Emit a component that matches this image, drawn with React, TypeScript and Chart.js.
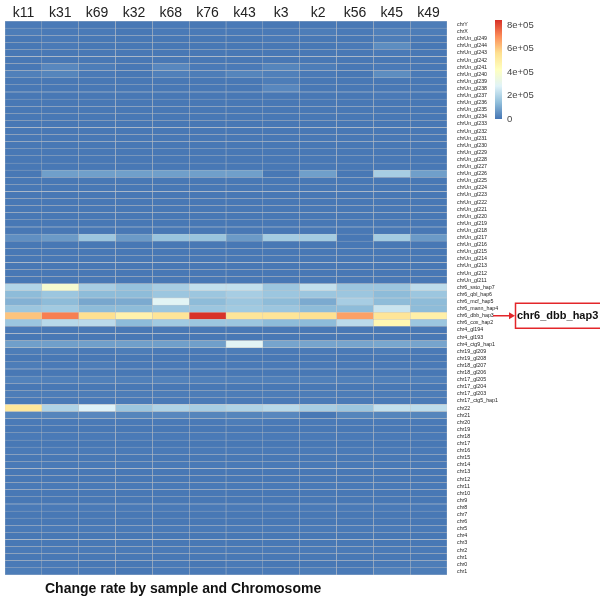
import React, { useEffect, useRef } from "react";
import { Chart, registerables } from "chart.js";
Chart.register(...registerables);

const samples = ["k11", "k31", "k69", "k32", "k68", "k76", "k43", "k3", "k2", "k56", "k45", "k49"];

const chromosomes = [
  "chrY", "chrX", "chrUn_gl249", "chrUn_gl244", "chrUn_gl243", "chrUn_gl242", "chrUn_gl241", "chrUn_gl240",
  "chrUn_gl239", "chrUn_gl238", "chrUn_gl237", "chrUn_gl236", "chrUn_gl235", "chrUn_gl234", "chrUn_gl233",
  "chrUn_gl232", "chrUn_gl231", "chrUn_gl230", "chrUn_gl229", "chrUn_gl228", "chrUn_gl227", "chrUn_gl226",
  "chrUn_gl225", "chrUn_gl224", "chrUn_gl223", "chrUn_gl222", "chrUn_gl221", "chrUn_gl220", "chrUn_gl219",
  "chrUn_gl218", "chrUn_gl217", "chrUn_gl216", "chrUn_gl215", "chrUn_gl214", "chrUn_gl213", "chrUn_gl212",
  "chrUn_gl211", "chr6_ssto_hap7", "chr6_qbl_hap6", "chr6_mcf_hap5", "chr6_mann_hap4", "chr6_dbb_hap3",
  "chr6_cox_hap2", "chr4_gl194", "chr4_gl193", "chr4_ctg9_hap1", "chr19_gl209", "chr19_gl208", "chr18_gl207",
  "chr18_gl206", "chr17_gl205", "chr17_gl204", "chr17_gl203", "chr17_ctg5_hap1", "chr22", "chr21", "chr20",
  "chr19", "chr18", "chr17", "chr16", "chr15", "chr14", "chr13", "chr12", "chr11", "chr10", "chr9", "chr8",
  "chr7", "chr6", "chr5", "chr4", "chr3", "chr2", "chr1", "chr0", "chr1",
];

// change rate per chromosome (row) and sample (column), in units of 1e5
const changeRate: number[][] = [
  [0.1, 0.1, 0.05, 0.05, 0.1, 0.05, 0.1, 0.05, 0.05, 0.05, 0.1, 0.15],
  [0.15, 0.1, 0.1, 0.05, 0.1, 0.1, 0.1, 0.1, 0.15, 0.1, 0.2, 0.15],
  [0.05, 0.1, 0.05, 0.05, 0.05, 0.05, 0.05, 0.1, 0.05, 0.05, 0.15, 0.05],
  [0.05, 0.1, 0.05, 0.05, 0.05, 0.05, 0.05, 0.05, 0.05, 0.1, 0.45, 0.05],
  [0.05, 0.05, 0.05, 0.05, 0.05, 0.05, 0.05, 0.05, 0.05, 0.05, 0.1, 0.05],
  [0.05, 0.05, 0.05, 0.05, 0.05, 0.05, 0.05, 0.05, 0.05, 0.05, 0.05, 0.05],
  [0.05, 0.35, 0.15, 0.05, 0.35, 0.1, 0.1, 0.3, 0.15, 0.05, 0.1, 0.05],
  [0.2, 0.3, 0.1, 0.05, 0.2, 0.15, 0.3, 0.2, 0.1, 0.05, 0.45, 0.1],
  [0.05, 0.05, 0.05, 0.05, 0.05, 0.05, 0.05, 0.15, 0.05, 0.05, 0.05, 0.05],
  [0.05, 0.05, 0.05, 0.05, 0.05, 0.05, 0.05, 0.35, 0.05, 0.05, 0.05, 0.05],
  [0.05, 0.05, 0.05, 0.05, 0.05, 0.05, 0.05, 0.05, 0.05, 0.05, 0.1, 0.05],
  [0.05, 0.05, 0.05, 0.05, 0.05, 0.05, 0.05, 0.05, 0.05, 0.05, 0.05, 0.05],
  [0.05, 0.05, 0.05, 0.05, 0.05, 0.05, 0.05, 0.05, 0.05, 0.05, 0.05, 0.05],
  [0.05, 0.05, 0.05, 0.05, 0.05, 0.05, 0.05, 0.05, 0.05, 0.05, 0.05, 0.05],
  [0.05, 0.05, 0.05, 0.05, 0.05, 0.05, 0.05, 0.05, 0.05, 0.05, 0.05, 0.05],
  [0.05, 0.05, 0.05, 0.05, 0.05, 0.05, 0.05, 0.05, 0.05, 0.05, 0.05, 0.05],
  [0.05, 0.05, 0.05, 0.05, 0.05, 0.05, 0.05, 0.05, 0.05, 0.05, 0.05, 0.05],
  [0.05, 0.05, 0.05, 0.05, 0.05, 0.05, 0.05, 0.05, 0.05, 0.05, 0.05, 0.05],
  [0.05, 0.05, 0.05, 0.05, 0.05, 0.05, 0.05, 0.05, 0.05, 0.05, 0.05, 0.05],
  [0.05, 0.05, 0.05, 0.05, 0.05, 0.05, 0.05, 0.05, 0.05, 0.05, 0.05, 0.05],
  [0.05, 0.05, 0.05, 0.05, 0.05, 0.05, 0.05, 0.05, 0.05, 0.05, 0.05, 0.05],
  [0.05, 0.8, 0.8, 0.8, 0.8, 0.8, 0.8, 0.05, 0.8, 0.05, 1.8, 0.8],
  [0.05, 0.05, 0.05, 0.05, 0.05, 0.05, 0.05, 0.05, 0.05, 0.05, 0.05, 0.05],
  [0.05, 0.05, 0.05, 0.05, 0.05, 0.05, 0.05, 0.05, 0.05, 0.05, 0.05, 0.05],
  [0.05, 0.05, 0.05, 0.05, 0.05, 0.05, 0.05, 0.05, 0.05, 0.05, 0.05, 0.05],
  [0.05, 0.05, 0.05, 0.05, 0.05, 0.05, 0.05, 0.05, 0.05, 0.05, 0.05, 0.05],
  [0.05, 0.05, 0.05, 0.05, 0.05, 0.05, 0.05, 0.05, 0.05, 0.05, 0.05, 0.05],
  [0.05, 0.05, 0.05, 0.05, 0.05, 0.05, 0.05, 0.05, 0.05, 0.05, 0.05, 0.05],
  [0.05, 0.05, 0.05, 0.05, 0.05, 0.05, 0.05, 0.05, 0.05, 0.05, 0.05, 0.05],
  [0.05, 0.05, 0.05, 0.05, 0.05, 0.05, 0.05, 0.05, 0.05, 0.05, 0.05, 0.05],
  [0.5, 0.7, 1.6, 0.7, 1.55, 1.55, 0.7, 1.75, 1.75, 0.05, 1.75, 0.7],
  [0.05, 0.05, 0.05, 0.05, 0.05, 0.05, 0.05, 0.05, 0.05, 0.05, 0.05, 0.05],
  [0.05, 0.05, 0.05, 0.05, 0.05, 0.05, 0.05, 0.05, 0.05, 0.05, 0.05, 0.05],
  [0.05, 0.05, 0.05, 0.05, 0.05, 0.05, 0.05, 0.05, 0.05, 0.05, 0.05, 0.05],
  [0.05, 0.05, 0.05, 0.05, 0.05, 0.05, 0.05, 0.05, 0.05, 0.05, 0.05, 0.05],
  [0.05, 0.05, 0.05, 0.05, 0.05, 0.05, 0.05, 0.05, 0.05, 0.05, 0.05, 0.05],
  [0.05, 0.05, 0.05, 0.05, 0.05, 0.05, 0.05, 0.05, 0.05, 0.05, 0.05, 0.05],
  [2.0, 3.8, 1.8, 1.5, 1.8, 2.3, 2.3, 1.6, 2.3, 1.6, 1.6, 2.2],
  [1.35, 1.6, 1.35, 1.35, 1.6, 1.6, 1.8, 1.6, 1.6, 1.6, 1.35, 1.6],
  [1.15, 1.35, 0.95, 1.0, 2.9, 1.35, 1.6, 1.35, 1.0, 1.8, 1.35, 1.35],
  [1.6, 1.7, 1.35, 1.35, 1.6, 1.6, 1.7, 1.6, 1.35, 1.35, 2.4, 1.35],
  [6.1, 7.25, 5.6, 4.8, 5.4, 8.4, 5.4, 5.4, 5.6, 6.7, 5.4, 4.9],
  [1.6, 2.1, 2.15, 1.35, 1.7, 1.6, 1.6, 1.35, 1.35, 2.15, 4.6, 1.6],
  [0.1, 0.05, 0.05, 0.05, 0.05, 0.05, 0.05, 0.05, 0.05, 0.05, 0.05, 0.05],
  [0.05, 0.05, 0.05, 0.05, 0.05, 0.05, 0.05, 0.05, 0.05, 0.05, 0.05, 0.05],
  [0.8, 0.8, 0.8, 0.8, 0.8, 0.8, 2.9, 0.9, 0.9, 0.9, 0.95, 0.9],
  [0.15, 0.15, 0.1, 0.15, 0.1, 0.1, 0.15, 0.1, 0.1, 0.1, 0.15, 0.1],
  [0.05, 0.05, 0.05, 0.05, 0.05, 0.05, 0.05, 0.05, 0.05, 0.05, 0.05, 0.05],
  [0.15, 0.1, 0.15, 0.1, 0.1, 0.1, 0.1, 0.1, 0.1, 0.1, 0.1, 0.1],
  [0.05, 0.05, 0.05, 0.05, 0.05, 0.05, 0.05, 0.05, 0.05, 0.05, 0.05, 0.05],
  [0.25, 0.2, 0.2, 0.2, 0.25, 0.2, 0.2, 0.2, 0.2, 0.2, 0.2, 0.2],
  [0.05, 0.05, 0.05, 0.05, 0.05, 0.05, 0.05, 0.05, 0.05, 0.05, 0.05, 0.05],
  [0.15, 0.15, 0.15, 0.15, 0.15, 0.15, 0.15, 0.15, 0.15, 0.15, 0.15, 0.15],
  [0.1, 0.1, 0.1, 0.1, 0.1, 0.1, 0.1, 0.1, 0.1, 0.1, 0.1, 0.1],
  [5.3, 1.95, 2.8, 1.6, 1.95, 1.8, 1.95, 2.1, 1.8, 1.6, 2.3, 2.2],
  [0.3, 0.3, 0.35, 0.3, 0.35, 0.3, 0.3, 0.35, 0.05, 0.3, 0.3, 0.3],
  [0.1, 0.1, 0.1, 0.1, 0.1, 0.1, 0.15, 0.1, 0.1, 0.1, 0.1, 0.1],
  [0.05, 0.05, 0.05, 0.05, 0.05, 0.05, 0.05, 0.05, 0.05, 0.05, 0.05, 0.05],
  [0.1, 0.1, 0.1, 0.1, 0.1, 0.1, 0.1, 0.1, 0.1, 0.1, 0.1, 0.1],
  [0.05, 0.05, 0.05, 0.05, 0.05, 0.05, 0.05, 0.05, 0.05, 0.05, 0.05, 0.05],
  [0.1, 0.1, 0.1, 0.1, 0.1, 0.1, 0.1, 0.1, 0.1, 0.1, 0.1, 0.1],
  [0.05, 0.05, 0.05, 0.05, 0.05, 0.05, 0.05, 0.05, 0.05, 0.05, 0.05, 0.05],
  [0.1, 0.1, 0.1, 0.1, 0.1, 0.1, 0.1, 0.1, 0.1, 0.1, 0.1, 0.1],
  [0.05, 0.05, 0.05, 0.05, 0.05, 0.05, 0.05, 0.05, 0.05, 0.05, 0.05, 0.05],
  [0.05, 0.05, 0.05, 0.05, 0.05, 0.05, 0.05, 0.05, 0.05, 0.05, 0.05, 0.05],
  [0.1, 0.1, 0.1, 0.1, 0.1, 0.1, 0.1, 0.1, 0.1, 0.1, 0.1, 0.1],
  [0.05, 0.05, 0.05, 0.05, 0.05, 0.05, 0.05, 0.05, 0.05, 0.05, 0.05, 0.05],
  [0.05, 0.05, 0.05, 0.05, 0.05, 0.05, 0.05, 0.05, 0.05, 0.05, 0.05, 0.05],
  [0.1, 0.1, 0.1, 0.1, 0.1, 0.1, 0.1, 0.1, 0.1, 0.1, 0.1, 0.1],
  [0.05, 0.05, 0.05, 0.05, 0.05, 0.05, 0.05, 0.05, 0.05, 0.05, 0.05, 0.05],
  [0.05, 0.05, 0.05, 0.05, 0.05, 0.05, 0.05, 0.05, 0.05, 0.05, 0.05, 0.05],
  [0.1, 0.1, 0.1, 0.1, 0.1, 0.1, 0.1, 0.1, 0.1, 0.1, 0.1, 0.1],
  [0.05, 0.05, 0.05, 0.05, 0.05, 0.05, 0.05, 0.05, 0.05, 0.05, 0.05, 0.05],
  [0.05, 0.05, 0.05, 0.05, 0.05, 0.05, 0.05, 0.05, 0.05, 0.05, 0.05, 0.05],
  [0.1, 0.1, 0.1, 0.1, 0.1, 0.1, 0.1, 0.1, 0.1, 0.1, 0.1, 0.1],
  [0.05, 0.05, 0.05, 0.05, 0.05, 0.05, 0.05, 0.05, 0.05, 0.05, 0.05, 0.05],
];

const legendValues = [0, 2, 4, 6, 8];
const legendLabels = ["0", "2e+05", "4e+05", "6e+05", "8e+05"];
const colorMin = 0;
const colorMax = 8.45;
const palette = ["#4575B4", "#91BFDB", "#E0F3F8", "#FFFFBF", "#FEE090", "#FC8D59", "#D73027"];
const highlighted = "chr6_dbb_hap3";
const titleText = "Change rate by sample and Chromosome";

function hexToRgb(h: string) {
  const n = parseInt(h.slice(1), 16);
  return [(n >> 16) & 255, (n >> 8) & 255, n & 255];
}

function colorFor(v: number) {
  let t = (v - colorMin) / (colorMax - colorMin);
  t = Math.max(0, Math.min(1, t));
  const seg = t * (palette.length - 1);
  const i = Math.min(palette.length - 2, Math.floor(seg));
  const f = seg - i;
  const a = hexToRgb(palette[i]);
  const b = hexToRgb(palette[i + 1]);
  const c = a.map((x, k) => Math.round(x + (b[k] - x) * f));
  return `rgb(${c[0]},${c[1]},${c[2]})`;
}

const FONT = '"Liberation Sans", Arial, sans-serif';

const overlayPlugin = {
  id: "overlay",
  afterDraw(chart: any) {
    const ctx = chart.ctx as CanvasRenderingContext2D;
    ctx.save();
    // color bar
    const barX = 495, barW = 7, barTop = 20, barBottom = 119;
    const grad = ctx.createLinearGradient(0, barBottom, 0, barTop);
    palette.forEach((c, i) => grad.addColorStop(i / (palette.length - 1), c));
    ctx.fillStyle = grad;
    ctx.fillRect(barX, barTop, barW, barBottom - barTop);
    ctx.font = `9.5px ${FONT}`;
    ctx.fillStyle = "#444";
    ctx.textAlign = "left";
    ctx.textBaseline = "middle";
    legendValues.forEach((v, i) => {
      const y = barBottom - ((v - colorMin) / (colorMax - colorMin)) * (barBottom - barTop);
      ctx.fillText(legendLabels[i], 507, y);
    });
    // highlighted row annotation
    const yScale = chart.scales.y;
    const idx = chromosomes.indexOf(highlighted);
    const yc = yScale.getPixelForValue(idx);
    ctx.strokeStyle = "#e3262a";
    ctx.fillStyle = "#e3262a";
    ctx.lineWidth = 1.5;
    ctx.beginPath();
    ctx.moveTo(493, yc);
    ctx.lineTo(510, yc);
    ctx.stroke();
    ctx.beginPath();
    ctx.moveTo(509, yc - 3.5);
    ctx.lineTo(515, yc);
    ctx.lineTo(509, yc + 3.5);
    ctx.closePath();
    ctx.fill();
    ctx.strokeRect(515.5, yc - 12.5, 100, 25);
    ctx.fillStyle = "#111";
    ctx.font = `bold 11px ${FONT}`;
    ctx.textBaseline = "middle";
    ctx.fillText(highlighted, 517, yc);
    // title
    ctx.font = `bold 14px ${FONT}`;
    ctx.fillStyle = "#111";
    ctx.fillText(titleText, 45, 589);
    ctx.restore();
  },
};

export default function App() {
  const ref = useRef<HTMLCanvasElement>(null);
  useEffect(() => {
    if (!ref.current) return;
    const datasets = samples.map((s, j) => ({
      label: s,
      data: chromosomes.map(() => 1),
      backgroundColor: changeRate.map((row) => colorFor(row[j])),
      borderColor: "rgba(185,185,185,0.7)",
      borderWidth: 0.5,
      borderSkipped: false,
      barPercentage: 1,
      categoryPercentage: 1,
      xAxisID: "x",
      yAxisID: "y",
    }));
    const chart = new Chart(ref.current, {
      type: "bar",
      data: { labels: chromosomes, datasets },
      options: {
        responsive: false,
        animation: false,
        indexAxis: "y",
        layout: { padding: { left: 5, right: 0, top: 0, bottom: 23 } },
        plugins: { legend: { display: false }, tooltip: { enabled: false }, title: { display: false } },
        scales: {
          x: { type: "linear", stacked: true, min: 0, max: samples.length, display: false },
          xTop: {
            type: "category",
            axis: "x",
            position: "top",
            labels: samples,
            offset: true,
            grid: { display: false },
            border: { display: false },
            ticks: { font: { family: FONT, size: 14 }, color: "#222", padding: -9, maxRotation: 0, autoSkip: false },
            afterFit(s: any) { s.height = 21; },
          },
          y: {
            type: "category",
            position: "right",
            stacked: true,
            offset: true,
            grid: { display: false },
            border: { display: false },
            ticks: { autoSkip: false, font: { family: FONT, size: 5.3 }, color: "#222", padding: 2 },
            afterFit(s: any) { s.width = 153; },
          },
        },
      } as any,
      plugins: [overlayPlugin],
    });
    return () => chart.destroy();
  }, []);
  return (
    <div style={{ position: "fixed", left: 0, top: 0, width: 600, height: 598, background: "#fff" }}>
      <canvas ref={ref} width={600} height={598} style={{ display: "block" }} />
    </div>
  );
}
